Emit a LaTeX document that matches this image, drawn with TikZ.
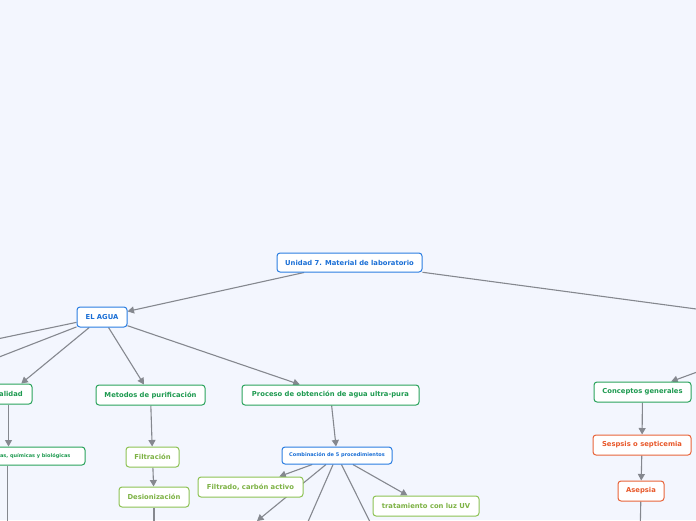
\documentclass[tikz,border=0pt]{standalone}
\usepackage{fontspec}
\setmainfont{DejaVu Sans}
\usetikzlibrary{arrows.meta}
\pgfdeclarelayer{background}
\pgfsetlayers{background,main}
\definecolor{bg}{HTML}{F3F6FE}
\definecolor{cblue}{HTML}{2A7DE1}
\definecolor{tblue}{HTML}{1A6FD6}
\definecolor{cgreen}{HTML}{2AA35C}
\definecolor{tgreen}{HTML}{1E9A50}
\definecolor{clime}{HTML}{8DC253}
\definecolor{tlime}{HTML}{7DB244}
\definecolor{corange}{HTML}{E8643A}
\definecolor{torange}{HTML}{E8582A}
\definecolor{edgegray}{HTML}{85888F}
\tikzset{
  topic/.style={draw, fill=white, rounded corners=3pt, line width=1pt,
    minimum height=20pt, inner sep=0pt,
    font=\bfseries\fontsize{6.8}{7.5}\selectfont},
  smalltopic/.style={topic, font=\bfseries\fontsize{5.0}{6}\selectfont},
  bluebox/.style={draw=cblue, text=tblue},
  greenbox/.style={draw=cgreen, text=tgreen},
  limebox/.style={draw=clime, text=tlime},
  orangebox/.style={draw=corange, text=torange},
  link/.style={draw=edgegray, line width=1.1pt},
  arr/.style={link, -{Triangle[length=6.5pt,width=7pt]}}
}
\begin{document}
\begin{tikzpicture}[x=1pt,y=-1pt]
\begin{pgfonlayer}{background}
\fill[bg] (0,0) rectangle (696,520);
\end{pgfonlayer}
\useasboundingbox (0,0) rectangle (696,520);

% hidden / off-picture ends
\coordinate (hidR) at (823,326);
\coordinate (offL1) at (-60,351);
\coordinate (offL2) at (-60,380);
\coordinate (offA) at (257,521);
\coordinate (offB) at (300,540);
\coordinate (offC) at (380,542);
\coordinate (offD) at (7.5,540);
\coordinate (offE) at (154,540);
\coordinate (offF) at (640,540);

% nodes
\node[topic,bluebox,minimum width=145pt,minimum height=19pt] (unidad) at (349.5,262.5) {Unidad 7. Material de laboratorio};
\node[topic,bluebox,minimum width=50pt] (agua) at (102,317) {EL AGUA};
\node[topic,greenbox,minimum width=47pt] (calidad) at (8.5,394) {Calidad};
\node[topic,greenbox,minimum width=109pt] (metodos) at (150.5,395) {Metodos de purificación};
\node[topic,greenbox,minimum width=177pt] (proceso) at (330.5,395) {Proceso de obtención de agua ultra-pura};
\node[smalltopic,greenbox,minimum width=155pt,minimum height=18pt] (caract) at (7.5,456) {Características físicas, químicas y biológicas};
\node[topic,limebox,minimum width=53pt] (filtracion) at (152.5,457) {Filtración};
\node[topic,limebox,minimum width=70pt] (desion) at (154,497) {Desionización};
\node[smalltopic,bluebox,minimum width=110pt,minimum height=17pt] (combin) at (337,455.5) {Combinación de 5 procedimientos};
\node[topic,limebox,minimum width=105pt] (filtrado) at (250.5,487) {Filtrado, carbón activo};
\node[topic,limebox,minimum width=106pt] (tratam) at (426,506) {tratamiento con luz UV};
\node[topic,greenbox,minimum width=97pt] (conceptos) at (642.5,392) {Conceptos generales};
\node[topic,orangebox,minimum width=98pt] (sepsis) at (642,445) {Sespsis o septicemia};
\node[topic,orangebox,minimum width=46pt] (asepsia) at (641,491) {Asepsia};

% connectors, behind the nodes
\begin{pgfonlayer}{background}
\path[arr] (unidad) -- (agua);
\path[link] (unidad) -- (hidR);
\path[arr] (hidR) -- (conceptos);
\path[link] (agua) -- (offL1);
\path[link] (agua) -- (offL2);
\path[arr] (agua) -- (calidad);
\path[arr] (agua) -- (metodos);
\path[arr] (agua) -- (proceso);
\path[arr] (calidad.south) -- (calidad.south |- caract.north);
\path[link] (caract.south -| offD) -- (offD);
\path[arr] (metodos) -- (filtracion);
\path[arr] (filtracion) -- (desion);
\path[link] (desion) -- (offE);
\path[arr] (proceso) -- (combin);
\path[arr] (combin) -- (filtrado);
\path[arr] (combin) -- (tratam);
\path[arr] (combin) -- (offA);
\path[link] (combin) -- (offB);
\path[link] (combin) -- (offC);
\path[arr] (conceptos) -- (sepsis);
\path[arr] (sepsis) -- (asepsia);
\path[link] (asepsia) -- (offF);
\end{pgfonlayer}
\end{tikzpicture}
\end{document}
